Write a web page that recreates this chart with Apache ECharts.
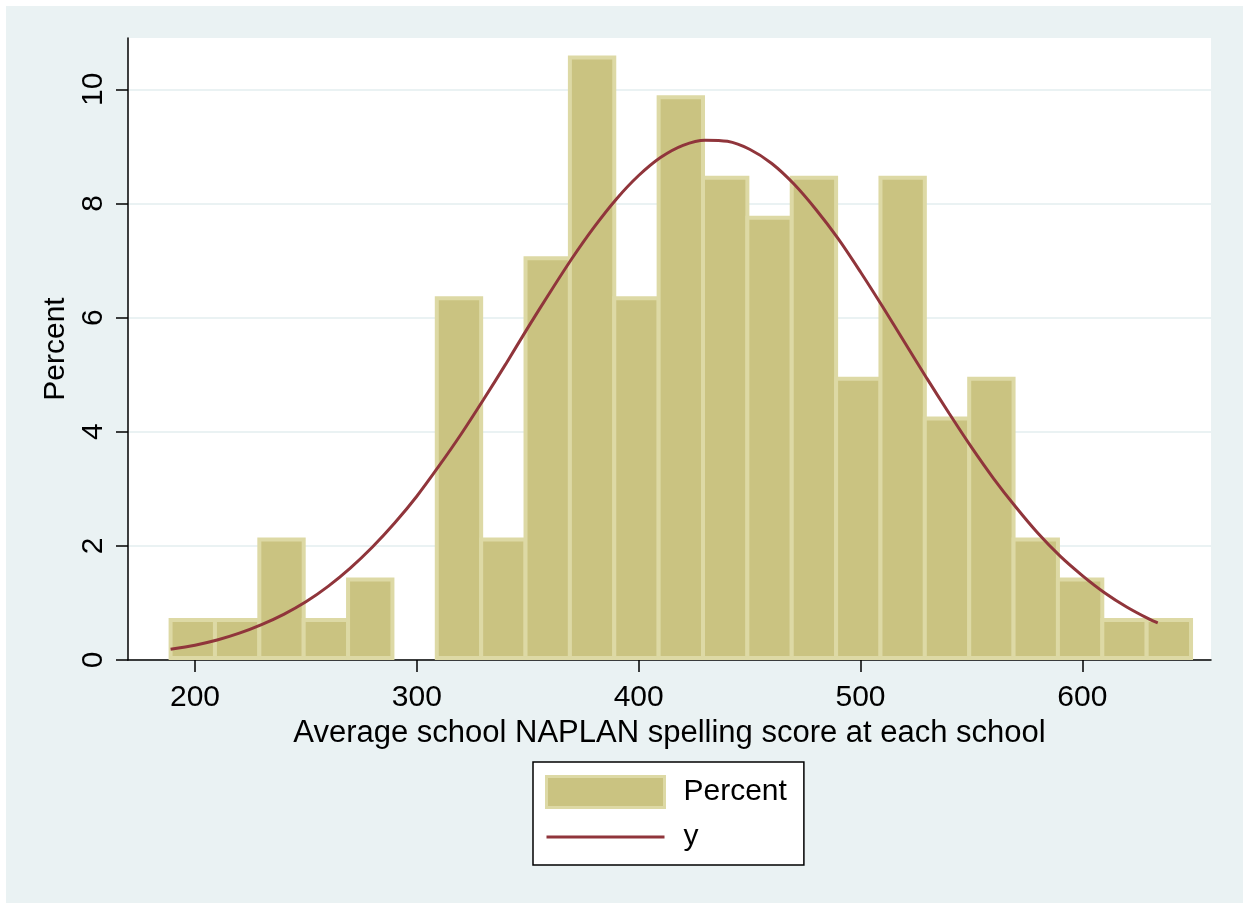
<!DOCTYPE html>
<html>
<head>
<meta charset="utf-8">
<title>NAPLAN spelling score histogram</title>
<script src="https://cdn.jsdelivr.net/npm/echarts@6/dist/echarts.min.js"></script>
<style>
  html, body { margin: 0; padding: 0; background: #ffffff; }
  #panel { position: absolute; left: 6px; top: 6px; width: 1237px; height: 897px; background: #eaf2f3; }
  #chart { position: absolute; left: 0; top: 0; width: 1243px; height: 903px; }
</style>
</head>
<body>
<div id="panel"></div>
<div id="chart"></div>
<script>
// Histogram of school averages: 23 bins of width 20 starting at the lowest score
const binStart = 189;
const binWidth = 20;
const percents = [0.70, 0.70, 2.11, 0.70, 1.41, 0, 6.34, 2.11, 7.04, 10.56, 6.34, 9.86,
                  8.45, 7.75, 8.45, 4.93, 8.45, 4.23, 4.93, 2.11, 1.41, 0.70, 0.70];

// Fitted normal curve "y", in percent per bin
const curveX = [189, 200, 210, 220, 230, 240, 250, 260, 270, 280, 290, 300, 310, 320, 330,
                340, 350, 360, 370, 380, 390, 400, 410, 420, 430, 440, 450, 460, 470, 480,
                490, 500, 510, 520, 530, 540, 550, 560, 570, 580, 590, 600, 610, 620, 630, 634];
const curveY = [0.19, 0.26, 0.35, 0.47, 0.62, 0.80, 1.02, 1.29, 1.61, 1.98, 2.40, 2.87, 3.40, 3.96, 4.56,
                5.18, 5.82, 6.44, 7.04, 7.59, 8.08, 8.49, 8.81, 9.02, 9.11, 9.09, 8.95, 8.70, 8.34, 7.89,
                7.38, 6.80, 6.19, 5.56, 4.93, 4.32, 3.73, 3.18, 2.68, 2.22, 1.82, 1.48, 1.18, 0.93, 0.72, 0.65];

const xTicks = [200, 300, 400, 500, 600];
const yTicks = [0, 2, 4, 6, 8, 10];

const FONT = '"Liberation Sans", Arial, Helvetica, sans-serif';
const BAR_FILL = '#cac381';
const BAR_EDGE = '#ddd9a5';
const CURVE = 'rgb(144,53,59)';

const barData = percents.map((p, i) => [binStart + i * binWidth, binStart + (i + 1) * binWidth, p]);
const curveData = curveX.map((x, i) => [x, curveY[i]]);

const chart = echarts.init(document.getElementById('chart'), null, { renderer: 'canvas' });

chart.setOption({
  backgroundColor: 'transparent',
  animation: false,
  textStyle: { fontFamily: FONT },
  grid: {
    left: 128, top: 38, width: 1083, height: 622,
    show: true, backgroundColor: '#ffffff', borderWidth: 0
  },
  legend: {
    orient: 'vertical',
    left: 533, top: 762,
    padding: [13, 17, 13, 12],
    itemWidth: 118, itemHeight: 31, itemGap: 13,
    backgroundColor: '#ffffff',
    borderColor: '#000000', borderWidth: 1.5, borderRadius: 0,
    selectedMode: false,
    textStyle: { fontSize: 30, color: '#000000', fontFamily: FONT, padding: [0, 0, 0, 14] },
    data: [
      { name: 'Percent', icon: 'rect', itemStyle: { color: BAR_FILL, borderColor: BAR_EDGE, borderWidth: 3 } },
      { name: 'y', itemStyle: { opacity: 0 }, lineStyle: { color: CURVE, width: 3 } }
    ]
  },
  xAxis: {
    type: 'value',
    min: 169.8, max: 658,
    name: 'Average school NAPLAN spelling score at each school',
    nameLocation: 'middle', nameGap: 54,
    nameTextStyle: { fontSize: 31, color: '#000000', fontFamily: FONT },
    axisLine: { show: true, onZero: false, lineStyle: { color: '#000000', width: 1.5 } },
    axisTick: { show: true, length: 12, customValues: xTicks, lineStyle: { color: '#000000', width: 1.5 } },
    axisLabel: { fontSize: 30, color: '#000000', margin: 23, customValues: xTicks, fontFamily: FONT },
    splitLine: { show: false }
  },
  yAxis: {
    type: 'value',
    min: 0, max: 10.9,
    name: 'Percent',
    nameLocation: 'middle', nameGap: 53,
    nameTextStyle: { fontSize: 30, color: '#000000', fontFamily: FONT },
    axisLine: { show: true, lineStyle: { color: '#000000', width: 1.5 } },
    axisTick: { show: true, length: 12, customValues: yTicks, lineStyle: { color: '#000000', width: 1.5 } },
    axisLabel: { fontSize: 30, color: '#000000', margin: 19, rotate: 90, customValues: yTicks, fontFamily: FONT },
    splitLine: { show: true, lineStyle: { color: '#eaf2f3', width: 2 } }
  },
  series: [
    {
      name: 'Percent',
      type: 'custom',
      itemStyle: { color: BAR_FILL },
      encode: { x: [0, 1], y: 2 },
      data: barData,
      z: 2,
      renderItem: function (params, api) {
        const v = api.value(2);
        if (!v) return null;
        const topLeft = api.coord([api.value(0), v]);
        const bottomRight = api.coord([api.value(1), 0]);
        const lw = 4;
        return {
          type: 'rect',
          shape: {
            x: topLeft[0],
            y: topLeft[1],
            width: bottomRight[0] - topLeft[0],
            height: bottomRight[1] - topLeft[1] - lw / 2
          },
          style: { fill: BAR_FILL, stroke: BAR_EDGE, lineWidth: lw }
        };
      }
    },
    {
      name: 'y',
      type: 'line',
      data: curveData,
      smooth: 0.3,
      symbol: 'none',
      showSymbol: false,
      z: 3,
      lineStyle: { color: CURVE, width: 3 },
      itemStyle: { color: CURVE }
    }
  ]
});
</script>
</body>
</html>
